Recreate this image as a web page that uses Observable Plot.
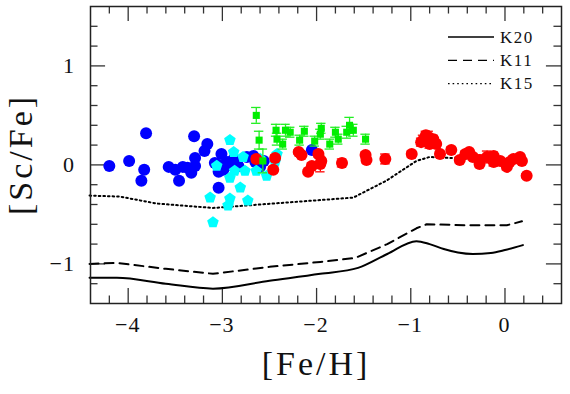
<!DOCTYPE html>
<html><head><meta charset="utf-8">
<script src="https://cdn.jsdelivr.net/npm/d3@7"></script>
<script src="https://cdn.jsdelivr.net/npm/@observablehq/plot@0.6"></script>
<style>body{margin:0;background:#fff}#chart{width:570px;height:394px}</style>
</head><body><div id="chart"></div>
<script>
// ---- data ----
const xMajor = [-4, -3, -2, -1, 0];
const xMinor = [-4.2, -3.8, -3.6, -3.4, -3.2, -2.8, -2.6, -2.4, -2.2, -1.8, -1.6, -1.4, -1.2, -0.8, -0.6, -0.4, -0.2, 0.2, 0.4];
const yMajor = [-1, 0, 1];
const yMinor = [-1.2, -0.8, -0.6, -0.4, -0.2, 0.2, 0.4, 0.6, 0.8, 1.2, 1.4];
const xDomain = [-4.4, 0.6];
const yDomain = [-1.4, 1.6];
const xTitle = "[Fe/H]";
const yTitle = "[Sc/Fe]";

const k20Fe = [-4.41, -4.12, -3.6, -3.10, -2.5, -1.96, -1.56, -1.25, -0.94, -0.80, -0.65, -0.50, -0.34, -0.15, 0.0, 0.19];
const k20Sc = [-1.14, -1.14, -1.20, -1.25, -1.17, -1.10, -1.04, -0.90, -0.77, -0.80, -0.85, -0.885, -0.90, -0.89, -0.86, -0.81];
const k11Fe = [-4.41, -4.12, -3.6, -3.10, -2.5, -1.96, -1.59, -1.25, -0.94, -0.83, -0.37, 0.02, 0.18];
const k11Sc = [-1.00, -0.99, -1.05, -1.10, -1.03, -0.98, -0.94, -0.80, -0.64, -0.60, -0.61, -0.61, -0.57];
const k15Fe = [-4.41, -4.09, -3.70, -3.10, -2.46, -1.96, -1.61, -1.26, -0.94, -0.80, -0.37, -0.12, 0.02, 0.16];
const k15Sc = [-0.31, -0.32, -0.39, -0.435, -0.39, -0.355, -0.33, -0.16, 0.04, 0.08, 0.06, 0.05, 0.06, 0.09];

const blueFe = [-4.20, -3.99, -3.81, -3.83, -3.86, -3.57, -3.50, -3.46, -3.42, -3.37, -3.33, -3.30, -3.29, -3.29, -3.19, -3.16, -3.04, -3.08, -3.01, -3.04, -2.99, -2.95, -2.88, -2.83, -2.74, -2.67, -2.65, -2.60, -2.56, -2.05, -3.04, -2.92];
const blueSc = [-0.01, 0.04, 0.32, -0.05, -0.16, -0.02, -0.05, -0.16, -0.02, -0.03, -0.08, 0.29, 0.07, -0.01, 0.14, 0.21, -0.23, 0.02, 0.11, -0.07, -0.05, 0.03, 0.06, -0.01, 0.08, 0.09, 0.03, -0.02, 0.04, 0.15, 0.00, 0.00];

const cyanFe = [-2.92, -2.88, -2.78, -3.06, -2.87, -2.76, -2.92, -2.81, -3.13, -2.92, -2.94, -2.73, -3.10, -2.64, -2.53, -2.42, -2.44, -2.60];
const cyanSc = [0.25, 0.13, 0.08, -0.01, -0.06, -0.06, -0.13, -0.23, -0.33, -0.34, -0.41, -0.36, -0.58, -0.06, -0.11, 0.11, 0.03, 0.06];

const redFe = [-2.64, -2.44, -2.46, -2.19, -2.16, -1.98, -1.95, -1.96, -2.05, -2.09, -1.73, -1.48, -1.47, -1.27, -0.99, -0.87, -0.81, -0.80, -0.73, -0.89, -0.84, -0.76, -0.69, -0.57, -0.48, -0.42, -0.38, -0.34, -0.27, -0.27, -0.19, -0.12, -0.12, -0.05, 0.02, 0.05, 0.09, 0.16, 0.18, 0.23];
const redSc = [0.06, 0.07, -0.05, 0.13, 0.10, 0.11, 0.04, 0.01, -0.01, -0.07, 0.02, 0.10, 0.05, 0.06, 0.11, 0.25, 0.28, 0.21, 0.21, 0.23, 0.30, 0.26, 0.11, 0.15, 0.05, 0.11, 0.13, 0.08, 0.05, 0.01, 0.08, 0.09, 0.03, 0.04, -0.02, 0.03, 0.06, 0.08, 0.04, -0.11];
const redErr = [0.03, 0.03, 0.03, 0.02, 0.02, 0.03, 0.03, 0.08, 0.03, 0.02, 0.04, 0.03, 0.03, 0.05, 0.03, 0.05, 0.06, 0.04, 0.04, 0.04, 0.04, 0.04, 0.03, 0.03, 0.03, 0.03, 0.03, 0.03, 0.05, 0.03, 0.06, 0.04, 0.04, 0.03, 0.03, 0.03, 0.03, 0.03, 0.03, 0.02];

const greenFe = [-2.64, -2.61, -2.57, -2.43, -2.42, -2.36, -2.33, -2.28, -2.18, -2.13, -2.02, -1.96, -1.95, -1.86, -1.80, -1.77, -1.68, -1.65, -1.61, -1.48];
const greenSc = [0.50, 0.25, 0.04, 0.35, 0.26, 0.21, 0.35, 0.33, 0.25, 0.34, 0.24, 0.31, 0.37, 0.21, 0.33, 0.26, 0.33, 0.40, 0.35, 0.26];
const greenErr = [0.08, 0.09, 0.12, 0.06, 0.06, 0.05, 0.06, 0.05, 0.05, 0.05, 0.05, 0.05, 0.05, 0.05, 0.05, 0.05, 0.06, 0.08, 0.06, 0.05];

const legendNames = ["K20", "K11", "K15"];

// ---- tables ----
const toLine = (fe, sc) => fe.map((f, i) => ({fe: f, sc: sc[i]}));
const k20 = toLine(k20Fe, k20Sc), k11 = toLine(k11Fe, k11Sc), k15 = toLine(k15Fe, k15Sc);
const blue = toLine(blueFe, blueSc);
const cyan = toLine(cyanFe, cyanSc);
const red = redFe.map((f, i) => ({fe: f, sc: redSc[i], e: redErr[i]}));
const green = greenFe.map((f, i) => ({fe: f, sc: greenSc[i], e: greenErr[i]}));

const pentagon = {
  draw(ctx, size) {
    const r = Math.sqrt(size / 2.3776);
    for (let i = 0; i < 5; i++) {
      const a = -Math.PI / 2 + i * 2 * Math.PI / 5;
      const px = r * Math.cos(a), py = r * Math.sin(a);
      if (i) ctx.lineTo(px, py); else ctx.moveTo(px, py);
    }
    ctx.closePath();
  }
};

const FONT = "Liberation Serif";
const majLenY = 0.152, minLenY = 0.076; // in y units (ticks on x axes)
const majLenX = 0.16, minLenX = 0.08;   // in x units (ticks on y axes)
const cap = 0.05;
const fmt = d3.format("d");

const errMarks = (data, color) => [
  Plot.ruleX(data, {x: "fe", y1: d => d.sc - d.e, y2: d => d.sc + d.e, stroke: color, strokeWidth: 1.3}),
  Plot.ruleY(data, {y: d => d.sc - d.e, x1: d => d.fe - cap, x2: d => d.fe + cap, stroke: color, strokeWidth: 1.3}),
  Plot.ruleY(data, {y: d => d.sc + d.e, x1: d => d.fe - cap, x2: d => d.fe + cap, stroke: color, strokeWidth: 1.3})
];

const tickStroke = {stroke: "#333", strokeWidth: 1.3};

const plot = Plot.plot({
  width: 570, height: 394,
  marginLeft: 90, marginRight: 9, marginTop: 6, marginBottom: 91,
  style: {background: "#fff"},
  x: {domain: xDomain, axis: null},
  y: {domain: yDomain, axis: null},
  marks: [
    // ticks (inward, all four sides)
    Plot.ruleX(xMajor, {x: d => d, y1: yDomain[0], y2: yDomain[0] + majLenY, ...tickStroke}),
    Plot.ruleX(xMinor, {x: d => d, y1: yDomain[0], y2: yDomain[0] + minLenY, ...tickStroke}),
    Plot.ruleX(xMajor, {x: d => d, y1: yDomain[1], y2: yDomain[1] - majLenY, ...tickStroke}),
    Plot.ruleX(xMinor, {x: d => d, y1: yDomain[1], y2: yDomain[1] - minLenY, ...tickStroke}),
    Plot.ruleY(yMajor, {y: d => d, x1: xDomain[0], x2: xDomain[0] + majLenX, ...tickStroke}),
    Plot.ruleY(yMinor, {y: d => d, x1: xDomain[0], x2: xDomain[0] + minLenX, ...tickStroke}),
    Plot.ruleY(yMajor, {y: d => d, x1: xDomain[1], x2: xDomain[1] - majLenX, ...tickStroke}),
    Plot.ruleY(yMinor, {y: d => d, x1: xDomain[1], x2: xDomain[1] - minLenX, ...tickStroke}),
    // model lines
    Plot.line(k15, {x: "fe", y: "sc", stroke: "#000", strokeWidth: 2, strokeDasharray: "1.6,3"}),
    Plot.line(k11, {x: "fe", y: "sc", stroke: "#000", strokeWidth: 2, strokeDasharray: "9,6"}),
    Plot.line(k20, {x: "fe", y: "sc", stroke: "#000", strokeWidth: 2, curve: "monotone-x"}),
    // points
    Plot.dot(blue, {x: "fe", y: "sc", r: 6, fill: "#0000ff", stroke: "none"}),
    Plot.dot(cyan, {x: "fe", y: "sc", r: 5.3, symbol: pentagon, fill: "#00ffff", stroke: "none"}),
    ...errMarks(red, "#ff0000"),
    Plot.dot(red, {x: "fe", y: "sc", r: 6, fill: "#ff0000", stroke: "none"}),
    ...errMarks(green, "#22ee22"),
    Plot.dot(green, {x: "fe", y: "sc", r: 4, symbol: "square", fill: "#00ee00", stroke: "none"}),
    Plot.frame({stroke: "#222", strokeWidth: 1.5})
  ]
});

// scales from the plot
const mk = (s) => (s && typeof s.apply === "function") ? (v) => s.apply(v) : d3.scaleLinear().domain(s.domain).range(s.range);
const sx = mk(plot.scale("x")), sy = mk(plot.scale("y"));
const yBottom = sy(yDomain[0]), xLeft = sx(xDomain[0]);

const svg = d3.select(plot);
const tg = svg.append("g").attr("fill", "#111").attr("font-family", FONT);

// tick labels
tg.selectAll(null).data(xMajor).join("text")
  .attr("x", d => sx(d)).attr("y", yBottom + 28.5).attr("text-anchor", "middle")
  .attr("font-size", 22).attr("letter-spacing", 1).text(d => fmt(d));
tg.selectAll(null).data(yMajor).join("text")
  .attr("x", xLeft - 15).attr("y", d => sy(d) + 7.5).attr("text-anchor", "end")
  .attr("font-size", 22).attr("letter-spacing", 1).text(d => fmt(d));

// axis titles
tg.append("text").attr("x", xLeft + 226).attr("y", yBottom + 72).attr("text-anchor", "middle")
  .attr("font-size", 34).attr("letter-spacing", 3).text(xTitle);
tg.append("text").attr("transform", `translate(${xLeft - 58},${(sy(yDomain[0]) + sy(yDomain[1])) / 2}) rotate(-90)`)
  .attr("text-anchor", "middle").attr("font-size", 34).attr("letter-spacing", 3).text(yTitle);

// legend
const dashes = [null, "9,6", "1.6,3"];
legendNames.forEach((name, i) => {
  const y = 37 + i * 23.3;
  tg.append("line").attr("x1", 448).attr("x2", 494).attr("y1", y).attr("y2", y)
    .attr("stroke", "#000").attr("stroke-width", 1.3).attr("stroke-dasharray", dashes[i]);
  tg.append("text").attr("x", 500).attr("y", y + 5.5).attr("text-anchor", "start")
    .attr("font-size", 17).attr("letter-spacing", 1.5).text(name);
});

document.getElementById("chart").appendChild(plot);
</script>
</body></html>
